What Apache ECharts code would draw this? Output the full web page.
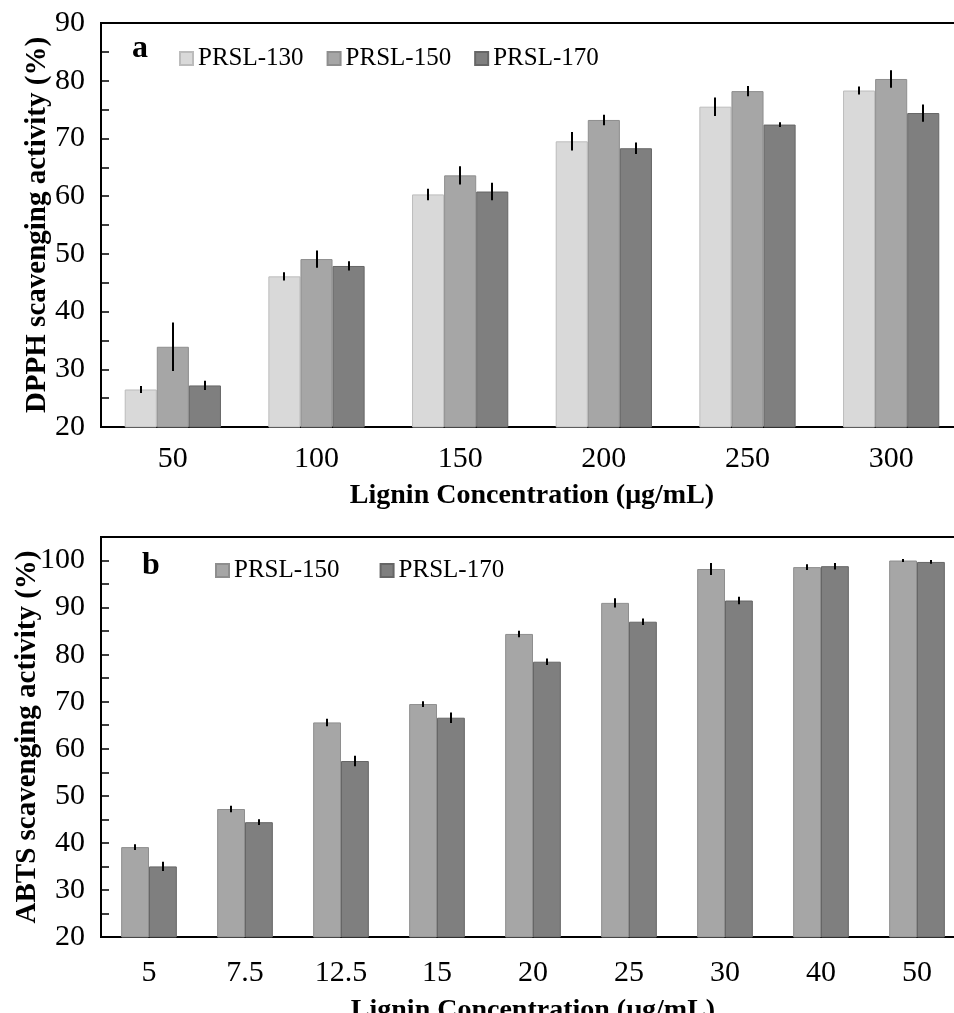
<!DOCTYPE html>
<html>
<head>
<meta charset="utf-8">
<script src="https://cdn.jsdelivr.net/npm/echarts@6/dist/echarts.min.js"></script>
<style>
html,body{margin:0;padding:0;background:#fff;}
#chart{width:954px;height:1013px;}
</style>
</head>
<body>
<div id="chart"></div>
<script>
// ---- Data: panel a (DPPH) ----
var catsA = ['50', '100', '150', '200', '250', '300'];
var dpph130 = [26.5, 46.1, 60.3, 69.5, 75.5, 78.3];
var dpph150 = [33.9, 49.1, 63.6, 73.2, 78.2, 80.3];
var dpph170 = [27.2, 47.9, 60.8, 68.3, 72.4, 74.4];
var dpph130Err = [0.6, 0.7, 1.0, 1.6, 1.6, 0.7];
var dpph150Err = [4.2, 1.5, 1.6, 0.9, 0.9, 1.5];
var dpph170Err = [0.8, 0.8, 1.5, 1.0, 0.4, 1.5];

// ---- Data: panel b (ABTS) ----
var catsB = ['5', '7.5', '12.5', '15', '20', '25', '30', '40', '50'];
var abts150 = [39.1, 47.2, 65.6, 69.5, 84.4, 91.0, 98.2, 98.6, 100.0];
var abts170 = [35.0, 44.4, 57.4, 66.6, 78.5, 87.0, 91.5, 98.8, 99.7];
var abts150Err = [0.6, 0.7, 0.8, 0.6, 0.7, 1.0, 1.3, 0.6, 0.3];
var abts170Err = [1.0, 0.6, 1.1, 1.1, 0.7, 0.7, 0.8, 0.7, 0.4];

var C130 = '#d9d9d9', C150 = '#a6a6a6', C170 = '#7f7f7f';
var B130 = '#bcbcbc', B150 = '#8e8e8e', B170 = '#666666';
var FONT = 'Liberation Serif';

function errData(vals, errs) {
  return vals.map(function (v, i) { return [i, v - errs[i], v + errs[i]]; });
}
function errSeries(name, axisIdx, vals, errs, idx, n, gapFrac) {
  return {
    type: 'custom', name: name, xAxisIndex: axisIdx, yAxisIndex: axisIdx, z: 10,
    silent: true,
    data: errData(vals, errs),
    renderItem: function (params, api) {
      var cat = api.value(0);
      var p1 = api.coord([cat, api.value(1)]);
      var p2 = api.coord([cat, api.value(2)]);
      var band = api.size([1, 0])[0];
      var total = band * (1 - gapFrac);
      var bw = total / n;
      var x = Math.round(p1[0] - total / 2 + bw * (idx + 0.5));
      return {
        type: 'line',
        shape: { x1: x, y1: p1[1], x2: x, y2: p2[1] },
        style: { stroke: '#000', lineWidth: 2 }
      };
    }
  };
}
function barSeries(name, axisIdx, vals, color, border, gap) {
  return {
    type: 'bar', name: name, xAxisIndex: axisIdx, yAxisIndex: axisIdx,
    data: vals, barGap: '0%', barCategoryGap: gap,
    itemStyle: { color: color, borderColor: border, borderWidth: 1 },
    emphasis: { disabled: true }
  };
}
function fmt10(v) { return (v % 10 === 0) ? String(v) : ''; }

var axisLab = { color: '#000', fontFamily: FONT, fontSize: 30 };
var nameStyX = { color: '#000', fontFamily: FONT, fontSize: 28, fontWeight: 'bold' };
var nameStyY = { color: '#000', fontFamily: FONT, fontSize: 29, fontWeight: 'bold' };
var legText = { color: '#000', fontFamily: FONT, fontSize: 25 };

var option = {
  animation: false,
  backgroundColor: '#fff',
  grid: [
    { left: 101, width: 862, top: 23, height: 404, containLabel: false, outerBoundsMode: 'none',
      show: true, borderColor: '#000', borderWidth: 2, backgroundColor: 'transparent' },
    { left: 101, width: 864, top: 537, height: 400, containLabel: false, outerBoundsMode: 'none',
      show: true, borderColor: '#000', borderWidth: 2, backgroundColor: 'transparent' }
  ],
  legend: [
    {
      left: 174, top: 41, itemWidth: 13, itemHeight: 13, itemGap: 23, icon: 'rect',
      data: ['PRSL-130', 'PRSL-150', 'PRSL-170'],
      textStyle: legText, selectedMode: false
    },
    {
      left: 210, top: 553, itemWidth: 13, itemHeight: 13, itemGap: 40, icon: 'rect',
      data: ['PRSL-150', 'PRSL-170'],
      textStyle: legText, selectedMode: false
    }
  ],
  graphic: [
    { type: 'text', left: 132, top: 33, style: { text: 'a', fill: '#000', font: 'bold 32px "Liberation Serif"' } },
    { type: 'text', left: 142, top: 550, style: { text: 'b', fill: '#000', font: 'bold 32px "Liberation Serif"' } }
  ],
  xAxis: [
    {
      type: 'category', gridIndex: 0, data: catsA,
      axisLine: { lineStyle: { color: '#000', width: 2 } },
      axisTick: { inside: true, length: 8, lineStyle: { color: '#000', width: 2 } },
      axisLabel: Object.assign({ margin: 17 }, axisLab),
      name: 'Lignin Concentration (μg/mL)', nameLocation: 'middle', nameGap: 55,
      nameTextStyle: nameStyX
    },
    {
      type: 'category', gridIndex: 1, data: catsB,
      axisLine: { lineStyle: { color: '#000', width: 2 } },
      axisTick: { inside: true, length: 8, lineStyle: { color: '#000', width: 2 } },
      axisLabel: Object.assign({ margin: 21 }, axisLab),
      name: 'Lignin Concentration (μg/mL)', nameLocation: 'middle', nameGap: 60,
      nameTextStyle: nameStyX
    }
  ],
  yAxis: [
    {
      type: 'value', gridIndex: 0, min: 20, max: 90, interval: 5,
      splitLine: { show: false },
      axisLine: { show: true, lineStyle: { color: '#000', width: 2 } },
      axisTick: { show: true, inside: true, length: 8, lineStyle: { color: '#000', width: 1.5 } },
      axisLabel: Object.assign({ margin: 16, formatter: fmt10 }, axisLab),
      name: 'DPPH scavenging activity (%)', nameLocation: 'middle', nameGap: 49,
      nameMoveOverlap: false,
      nameTextStyle: nameStyY
    },
    {
      type: 'value', gridIndex: 1, min: 20, max: 105, interval: 5,
      splitLine: { show: false },
      axisLine: { show: true, lineStyle: { color: '#000', width: 2 } },
      axisTick: { show: true, inside: true, length: 8, lineStyle: { color: '#000', width: 1.5 } },
      axisLabel: Object.assign({ margin: 16, formatter: fmt10 }, axisLab),
      name: 'ABTS scavenging activity (%)', nameLocation: 'middle', nameGap: 59,
      nameMoveOverlap: false,
      nameTextStyle: nameStyY
    }
  ],
  series: [
    barSeries('PRSL-130', 0, dpph130, C130, B130, '33%'),
    barSeries('PRSL-150', 0, dpph150, C150, B150, '33%'),
    barSeries('PRSL-170', 0, dpph170, C170, B170, '33%'),
    errSeries('errA130', 0, dpph130, dpph130Err, 0, 3, 0.33),
    errSeries('errA150', 0, dpph150, dpph150Err, 1, 3, 0.33),
    errSeries('errA170', 0, dpph170, dpph170Err, 2, 3, 0.33),
    barSeries('PRSL-150', 1, abts150, C150, B150, '42%'),
    barSeries('PRSL-170', 1, abts170, C170, B170, '42%'),
    errSeries('errB150', 1, abts150, abts150Err, 0, 2, 0.42),
    errSeries('errB170', 1, abts170, abts170Err, 1, 2, 0.42)
  ]
};

var chart = echarts.init(document.getElementById('chart'), null, { renderer: 'canvas' });
chart.setOption(option);
</script>
</body>
</html>
